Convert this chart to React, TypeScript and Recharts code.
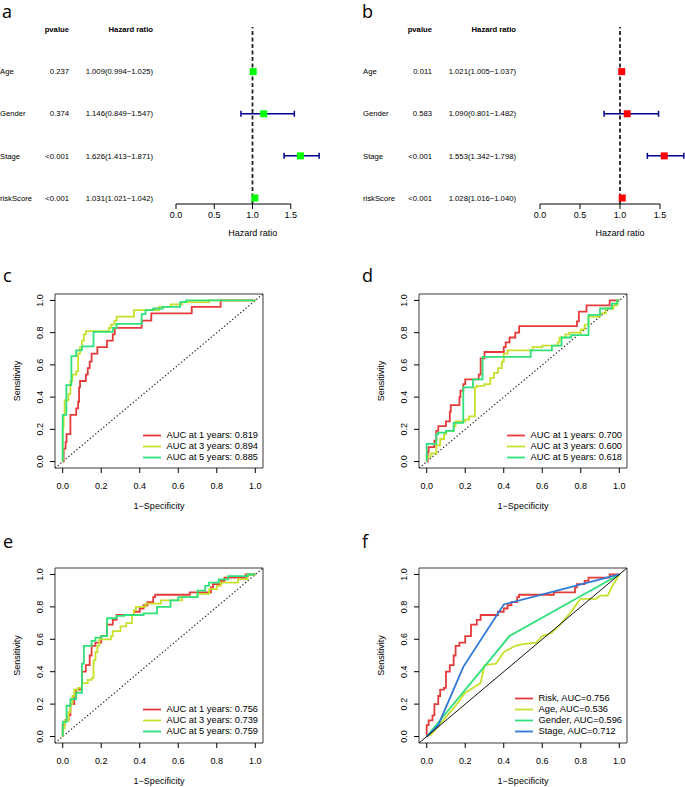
import React from 'react';
import {
  LineChart, Line, XAxis, YAxis, ReferenceLine, ReferenceArea, Legend,
  ScatterChart, Scatter, ErrorBar,
} from 'recharts';

const FONT = '"Liberation Sans", Arial, Helvetica, sans-serif';

// forest plots (a: training set, b: test set)
const rowNames = ['Age', 'Gender', 'Stage', 'riskScore'];
const aPvalue = ['0.237', '0.374', '<0.001', '<0.001'];
const aHR = [1.009, 1.146, 1.626, 1.031];
const aLow = [0.994, 0.849, 1.413, 1.021];
const aHigh = [1.025, 1.547, 1.871, 1.042];
const bPvalue = ['0.011', '0.583', '<0.001', '<0.001'];
const bHR = [1.021, 1.090, 1.553, 1.028];
const bLow = [1.005, 0.801, 1.342, 1.016];
const bHigh = [1.037, 1.482, 1.798, 1.040];
const hrTicks = [0, 0.5, 1, 1.5];

// ROC curves, [1-specificity, sensitivity] at each step
const c1yr = [[0,0],[0.005,0.08],[0.015,0.12],[0.02,0.17],[0.04,0.29],[0.07,0.33],[0.08,0.37],[0.085,0.46],[0.09,0.5],[0.12,0.54],[0.13,0.58],[0.14,0.62],[0.15,0.67],[0.18,0.71],[0.23,0.75],[0.26,0.79],[0.27,0.83],[0.41,0.875],[0.46,0.92],[0.67,0.96],[0.82,1],[1,1]];
const c3yr = [[0,0],[0,0.21],[0.005,0.29],[0.01,0.38],[0.03,0.42],[0.04,0.5],[0.05,0.54],[0.07,0.56],[0.08,0.67],[0.09,0.71],[0.1,0.75],[0.11,0.79],[0.12,0.81],[0.24,0.83],[0.25,0.85],[0.27,0.875],[0.28,0.9],[0.37,0.94],[0.5,0.96],[0.56,0.975],[0.62,0.99],[0.76,1],[1,1]];
const c5yr = [[0,0],[0,0.29],[0.019,0.475],[0.045,0.655],[0.07,0.69],[0.1,0.715],[0.16,0.805],[0.26,0.83],[0.28,0.855],[0.41,0.915],[0.43,0.94],[0.47,0.95],[0.52,0.96],[0.61,0.99],[0.64,1],[1,1]];

const d1yr = [[0,0],[0.005,0.06],[0.01,0.09],[0.04,0.13],[0.05,0.19],[0.06,0.22],[0.1,0.25],[0.12,0.31],[0.125,0.35],[0.17,0.4],[0.175,0.44],[0.19,0.48],[0.2,0.51],[0.27,0.54],[0.28,0.64],[0.3,0.68],[0.4,0.71],[0.41,0.74],[0.43,0.77],[0.46,0.8],[0.48,0.84],[0.78,0.87],[0.79,0.93],[0.83,0.97],[0.95,1],[1,1]];
const d3yr = [[0,0],[0,0.03],[0.02,0.05],[0.05,0.1],[0.07,0.14],[0.09,0.17],[0.1,0.19],[0.14,0.22],[0.15,0.25],[0.2,0.26],[0.22,0.28],[0.25,0.46],[0.26,0.47],[0.3,0.48],[0.33,0.52],[0.35,0.55],[0.37,0.58],[0.39,0.62],[0.4,0.67],[0.42,0.69],[0.55,0.71],[0.6,0.72],[0.68,0.74],[0.69,0.77],[0.72,0.79],[0.74,0.8],[0.8,0.82],[0.82,0.85],[0.84,0.9],[0.9,0.92],[0.93,0.95],[0.97,0.97],[0.99,1],[1,1]];
const d5yr = [[0,0],[0,0.11],[0.05,0.17],[0.06,0.18],[0.1,0.19],[0.14,0.24],[0.19,0.46],[0.24,0.51],[0.29,0.65],[0.54,0.69],[0.65,0.72],[0.7,0.77],[0.75,0.785],[0.84,0.91],[0.9,0.95],[0.96,0.98],[0.99,1],[1,1]];

const e1yr = [[0,0],[0,0.07],[0.01,0.1],[0.03,0.13],[0.04,0.2],[0.06,0.25],[0.07,0.29],[0.09,0.3],[0.1,0.4],[0.12,0.44],[0.14,0.5],[0.15,0.56],[0.17,0.58],[0.2,0.62],[0.23,0.69],[0.26,0.72],[0.28,0.75],[0.37,0.77],[0.4,0.79],[0.42,0.81],[0.44,0.83],[0.47,0.86],[0.48,0.875],[0.66,0.89],[0.77,0.92],[0.78,0.94],[0.82,0.96],[0.84,0.98],[0.95,1],[1,1]];
const e3yr = [[0,0],[0,0.05],[0.01,0.1],[0.03,0.15],[0.04,0.2],[0.05,0.25],[0.06,0.29],[0.08,0.3],[0.1,0.33],[0.13,0.35],[0.15,0.36],[0.16,0.47],[0.17,0.52],[0.18,0.56],[0.19,0.6],[0.25,0.62],[0.26,0.65],[0.3,0.68],[0.33,0.7],[0.36,0.75],[0.37,0.78],[0.38,0.8],[0.43,0.82],[0.51,0.84],[0.62,0.86],[0.7,0.88],[0.76,0.91],[0.8,0.93],[0.82,0.95],[0.91,0.97],[0.96,1],[1,1]];
const e5yr = [[0,0],[0,0.09],[0.02,0.19],[0.04,0.23],[0.07,0.27],[0.1,0.45],[0.11,0.56],[0.15,0.59],[0.17,0.61],[0.2,0.62],[0.23,0.73],[0.28,0.745],[0.32,0.75],[0.42,0.76],[0.49,0.8],[0.56,0.84],[0.6,0.86],[0.7,0.9],[0.74,0.93],[0.76,0.95],[0.81,0.97],[0.86,0.99],[0.96,1],[1,1]];

// f: risk score vs clinical variables (risk = same as e 1-year)
const fAge = [[0,0],[0.02,0.01],[0.05,0.05],[0.1,0.12],[0.15,0.19],[0.2,0.27],[0.24,0.3],[0.28,0.33],[0.3,0.44],[0.36,0.45],[0.4,0.52],[0.46,0.56],[0.5,0.57],[0.57,0.58],[0.6,0.62],[0.65,0.64],[0.7,0.7],[0.75,0.77],[0.78,0.82],[0.8,0.85],[0.84,0.85],[0.88,0.85],[0.9,0.87],[0.94,0.87],[0.96,0.92],[0.98,0.96],[1,1]];
const fGender = [[0,0],[0.43,0.62],[1,1]];
const fStage = [[0,0],[0.06,0.07],[0.19,0.43],[0.4,0.815],[1,1]];

const rocTicks = [0, 0.2, 0.4, 0.6, 0.8, 1];

const RED = '#e63a3a';
const YELLOW = '#c8e02c';
const GREEN = '#30e07a';
const BLUE = '#2f78d8';

const toPts = (arr: number[][]) => arr.map(([x, y]) => ({ x, y }));

type Curve = { name: string; data: number[][]; color: string; type: 'stepAfter' | 'linear' };

function RocPanel({ left, top, width, height, box, curves, solidDiag, legendRight, legendBottom }: any) {
  const dom = [-0.04, 1.04];
  return (
    <div style={{ position: 'absolute', left, top }}>
      <LineChart
        width={width}
        height={height}
        margin={{ top: box.t, right: width - box.r, left: 0, bottom: 0 }}
        style={{ fontFamily: FONT }}
      >
        <XAxis
          type="number"
          dataKey="x"
          domain={dom}
          ticks={rocTicks}
          allowDataOverflow
          axisLine={false}
          tickSize={5}
          stroke="#000"
          height={height - box.b}
          tick={(p: any) => (
            <text x={p.x} y={box.b + 20.5} textAnchor="middle" fontSize={9} fill="#000" fontFamily={FONT}>
              {Number(p.payload.value).toFixed(1)}
            </text>
          )}
          label={() => (
            <text x={(box.l + box.r) / 2} y={box.b + 40.5} textAnchor="middle" fontSize={9} fill="#000" fontFamily={FONT}>
              1−Specificity
            </text>
          )}
        />
        <YAxis
          type="number"
          dataKey="y"
          domain={dom}
          ticks={rocTicks}
          allowDataOverflow
          axisLine={false}
          tickSize={5}
          stroke="#000"
          width={box.l}
          tick={(p: any) => (
            <text
              x={box.l - 11.5}
              y={p.y}
              transform={`rotate(-90, ${box.l - 11.5}, ${p.y})`}
              textAnchor="middle"
              fontSize={9}
              fill="#000"
              fontFamily={FONT}
            >
              {Number(p.payload.value).toFixed(1)}
            </text>
          )}
          label={() => {
            const cy = (box.t + box.b) / 2;
            return (
              <text x={box.l - 35} y={cy} transform={`rotate(-90, ${box.l - 35}, ${cy})`} textAnchor="middle" fontSize={9} fill="#000" fontFamily={FONT}>
                Sensitivity
              </text>
            );
          }}
        />
        <ReferenceArea x1={-0.04} x2={1.04} y1={-0.04} y2={1.04} fill="none" stroke="#3a3a3a" strokeWidth={1} ifOverflow="visible" />
        {!solidDiag && (
          <ReferenceLine
            segment={[{ x: -0.04, y: -0.04 }, { x: 1.04, y: 1.04 }]}
            stroke="#222"
            strokeWidth={1.2}
            strokeDasharray="1.3 2.2"
            ifOverflow="visible"
          />
        )}
        {curves.map((c: Curve) => (
          <Line
            key={c.name}
            data={toPts(c.data)}
            dataKey="y"
            type={c.type}
            stroke={c.color}
            strokeWidth={1.8}
            dot={false}
            activeDot={false}
            isAnimationActive={false}
            name={c.name}
          />
        ))}
        {solidDiag && (
          <ReferenceLine
            segment={[{ x: -0.04, y: -0.04 }, { x: 1.04, y: 1.04 }]}
            stroke="#111"
            strokeWidth={1}
            ifOverflow="visible"
          />
        )}
        <Legend
          layout="vertical"
          align="center"
          verticalAlign="middle"
          wrapperStyle={{ left: 'auto', top: 'auto', right: legendRight, bottom: legendBottom, width: 'auto', height: 'auto' }}
          content={() => (
            <div style={{ fontFamily: FONT, fontSize: 9.3, lineHeight: '11px', color: '#000' }}>
              {curves.map((c: Curve) => (
                <div key={c.name} style={{ display: 'flex', alignItems: 'center', height: 11, whiteSpace: 'nowrap' }}>
                  <svg width={18} height={11} style={{ marginRight: 6 }}>
                    <line x1={0} x2={18} y1={5.5} y2={5.5} stroke={c.color} strokeWidth={1.8} />
                  </svg>
                  <span>{c.name}</span>
                </div>
              ))}
            </div>
          )}
        />
      </LineChart>
    </div>
  );
}

function ForestPanel({ left, width, yAxisWidth, xMax, pvals, hr, low, high, color, cols }: any) {
  const data = hr.map((v: number, i: number) => ({
    row: rowNames.length - i,
    hr: v,
    err: [v - low[i], high[i] - v],
  }));
  const yDom = [0.857, 5.06];
  const fmt = (v: number) => v.toFixed(3);
  return (
    <div style={{ position: 'absolute', left, top: 0 }}>
      <ScatterChart width={width} height={240} margin={{ top: 27, right: width - yAxisWidth - Math.round(xMax * cols.scale), left: 0, bottom: 0 }}>
        <XAxis
          type="number"
          dataKey="hr"
          domain={[0, xMax]}
          ticks={hrTicks}
          allowDataOverflow
          axisLine={false}
          tickSize={5}
          stroke="#000"
          height={36}
          tick={(p: any) => (
            <text x={p.x} y={218} textAnchor="middle" fontSize={9} fill="#000" fontFamily={FONT}>
              {Number(p.payload.value).toFixed(1)}
            </text>
          )}
          label={() => (
            <text x={yAxisWidth + cols.scale} y={236} textAnchor="middle" fontSize={9} fill="#000" fontFamily={FONT}>
              Hazard ratio
            </text>
          )}
        />
        <YAxis
          type="number"
          dataKey="row"
          domain={yDom}
          ticks={[1, 2, 3, 4, 5]}
          allowDataOverflow
          axisLine={false}
          tickLine={false}
          width={yAxisWidth}
          tick={(p: any) => {
            const v = p.payload.value;
            const common = { y: p.y, dy: '0.35em', fontSize: 7.7, fill: '#000', fontFamily: FONT };
            if (v === 5) {
              return (
                <g>
                  <text {...common} x={cols.p} textAnchor="end" fontWeight="bold">pvalue</text>
                  <text {...common} x={cols.hr} textAnchor="end" fontWeight="bold">Hazard ratio</text>
                </g>
              );
            }
            const i = rowNames.length - v;
            return (
              <g>
                <text {...common} x={cols.name} textAnchor="start">{rowNames[i]}</text>
                <text {...common} x={cols.p} textAnchor="end">{pvals[i]}</text>
                <text {...common} x={cols.hr} textAnchor="end">{`${fmt(hr[i])}(${fmt(low[i])}−${fmt(high[i])})`}</text>
              </g>
            );
          }}
        />
        <ReferenceLine
          segment={[{ x: 0, y: yDom[0] }, { x: 1.5, y: yDom[0] }]}
          stroke="#000"
          strokeWidth={1}
          ifOverflow="visible"
        />
        <ReferenceLine x={1} stroke="#222" strokeWidth={1.8} strokeDasharray="4 2.5" />
        <Scatter
          data={data}
          isAnimationActive={false}
          shape={(p: any) => <rect x={p.cx - 3.5} y={p.cy - 3.5} width={7} height={7} fill={color} />}
        >
          <ErrorBar dataKey="err" direction="x" width={3} stroke="#00008b" strokeWidth={1.5} />
        </Scatter>
      </ScatterChart>
    </div>
  );
}

export default function App() {
  const letter = { fontFamily: '"Open Sans", "Liberation Sans", sans-serif', fontSize: 18, fill: '#000' };
  return (
    <div style={{ position: 'absolute', left: 0, top: 0, width: 685, height: 787, background: '#fff', overflow: 'hidden' }}>
      <ForestPanel
        left={0} width={340} yAxisWidth={176} xMax={2}
        pvals={aPvalue} hr={aHR} low={aLow} high={aHigh} color="#00ff00"
        cols={{ name: 0, p: 69, hr: 153, scale: 76.7 }}
      />
      <ForestPanel
        left={340} width={345} yAxisWidth={200} xMax={1.8}
        pvals={bPvalue} hr={bHR} low={bLow} high={bHigh} color="#ff0000"
        cols={{ name: 23, p: 92, hr: 176, scale: 80 }}
      />
      <RocPanel
        left={0} top={255} width={340} height={260}
        box={{ l: 55, t: 39, r: 263, b: 213 }}
        curves={[
          { name: 'AUC at 1 years: 0.819', data: c1yr, color: RED, type: 'stepAfter' },
          { name: 'AUC at 3 years: 0.894', data: c3yr, color: YELLOW, type: 'stepAfter' },
          { name: 'AUC at 5 years: 0.885', data: c5yr, color: GREEN, type: 'stepAfter' },
        ]}
        legendRight={82} legendBottom={52.5}
      />
      <RocPanel
        left={340} top={255} width={345} height={260}
        box={{ l: 79, t: 39, r: 287, b: 213 }}
        curves={[
          { name: 'AUC at 1 years: 0.700', data: d1yr, color: RED, type: 'stepAfter' },
          { name: 'AUC at 3 years: 0.600', data: d3yr, color: YELLOW, type: 'stepAfter' },
          { name: 'AUC at 5 years: 0.618', data: d5yr, color: GREEN, type: 'stepAfter' },
        ]}
        legendRight={63} legendBottom={52.5}
      />
      <RocPanel
        left={0} top={515} width={340} height={272}
        box={{ l: 55, t: 53, r: 263, b: 228 }}
        curves={[
          { name: 'AUC at 1 years: 0.756', data: e1yr, color: RED, type: 'stepAfter' },
          { name: 'AUC at 3 years: 0.739', data: e3yr, color: YELLOW, type: 'stepAfter' },
          { name: 'AUC at 5 years: 0.759', data: e5yr, color: GREEN, type: 'stepAfter' },
        ]}
        legendRight={82} legendBottom={50}
      />
      <RocPanel
        left={340} top={515} width={345} height={272}
        box={{ l: 79, t: 53, r: 287, b: 228 }}
        curves={[
          { name: 'Risk, AUC=0.756', data: e1yr, color: RED, type: 'stepAfter' },
          { name: 'Age, AUC=0.536', data: fAge, color: YELLOW, type: 'linear' },
          { name: 'Gender, AUC=0.596', data: fGender, color: GREEN, type: 'linear' },
          { name: 'Stage, AUC=0.712', data: fStage, color: BLUE, type: 'linear' },
        ]}
        solidDiag
        legendRight={63} legendBottom={50.5}
      />
      <svg width={685} height={787} style={{ position: 'absolute', left: 0, top: 0, pointerEvents: 'none' }}>
        <text x={2} y={18} {...letter}>a</text>
        <text x={362} y={18} {...letter}>b</text>
        <text x={3} y={282} {...letter}>c</text>
        <text x={362} y={282} {...letter}>d</text>
        <text x={3} y={548} {...letter}>e</text>
        <text x={362} y={548} {...letter}>f</text>
      </svg>
    </div>
  );
}
